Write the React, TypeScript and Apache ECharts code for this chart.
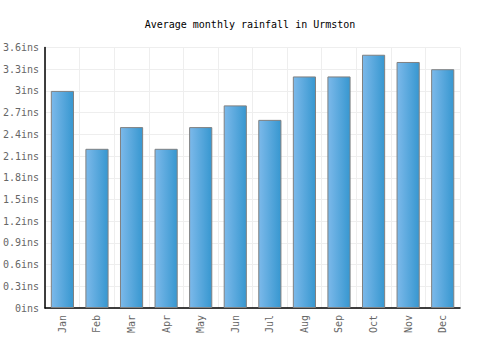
import React, { useEffect, useRef } from "react";
import * as echarts from "echarts";

const months = ["Jan", "Feb", "Mar", "Apr", "May", "Jun", "Jul", "Aug", "Sep", "Oct", "Nov", "Dec"];
const rainfall = [3.0, 2.2, 2.5, 2.2, 2.5, 2.8, 2.6, 3.2, 3.2, 3.5, 3.4, 3.3];
const titleText = "Average monthly rainfall in Urmston";
const unit = "ins";

export default function App() {
  const ref = useRef<HTMLDivElement>(null);
  useEffect(() => {
    if (!ref.current) return;
    const chart = echarts.init(ref.current, null, { renderer: "svg" });
    const font = "'DejaVu Sans Mono', monospace";
    chart.setOption({
      animation: false,
      title: {
        text: titleText,
        left: "center",
        top: 14,
        textStyle: { fontFamily: font, fontSize: 10, fontWeight: "normal", color: "#000" },
      },
      grid: { left: 40.5, right: 40, top: 47.5, bottom: 42, containLabel: false },
      xAxis: {
        type: "category",
        data: months,
        axisLine: { show: true, lineStyle: { color: "#000", width: 1.5 } },
        axisTick: { show: false },
        splitLine: { show: true, lineStyle: { color: "#eeeeee", width: 1 } },
        axisLabel: { rotate: 90, fontFamily: font, fontSize: 10, color: "#666", margin: 7, interval: 0 },
      },
      yAxis: {
        type: "value",
        min: 0,
        max: 3.6,
        interval: 0.3,
        axisLine: { show: true, lineStyle: { color: "#000", width: 1.5 } },
        axisTick: { show: false },
        splitLine: { show: true, lineStyle: { color: "#eeeeee", width: 1 } },
        axisLabel: {
          fontFamily: font,
          fontSize: 10,
          color: "#666",
          margin: 6,
          formatter: (v: number) => parseFloat(v.toFixed(1)) + unit,
        },
      },
      series: [
        {
          type: "bar",
          data: rainfall,
          barWidth: "67%",
          itemStyle: {
            borderColor: "#808080",
            borderWidth: 1,
            color: new echarts.graphic.LinearGradient(0, 0, 1, 0, [
              { offset: 0, color: "#7cb9ea" },
              { offset: 1, color: "#3797d0" },
            ]),
          },
        },
      ],
    });
    return () => chart.dispose();
  }, []);
  return <div ref={ref} style={{ width: 500, height: 350, position: "absolute", left: 0, top: 0 }} />;
}
